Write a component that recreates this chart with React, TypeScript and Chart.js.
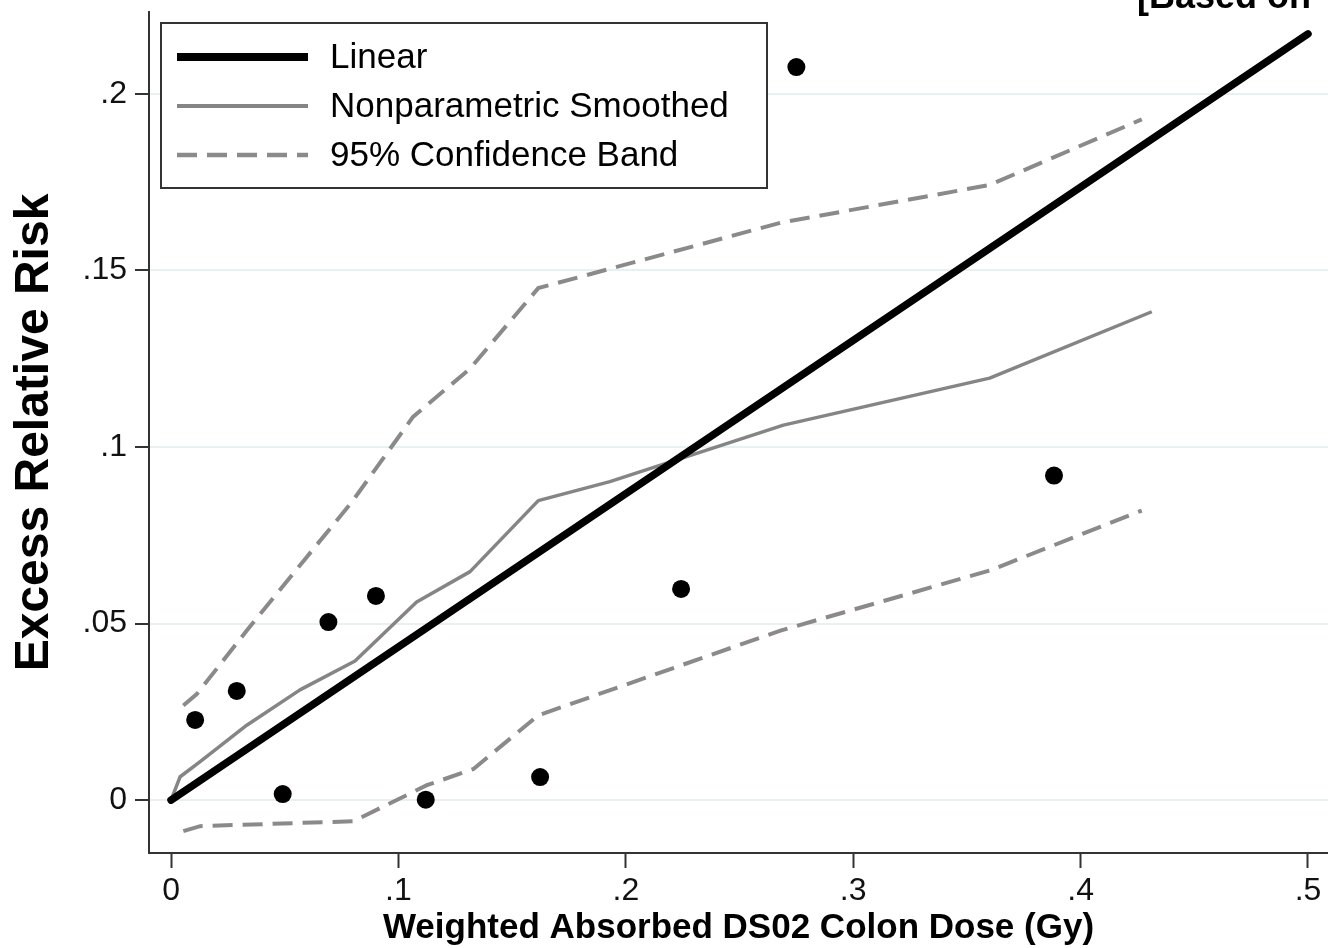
import React, { useEffect, useRef } from 'react';
import { Chart, registerables } from 'chart.js';

Chart.register(...registerables);

// Observed excess relative risk by dose category
const pointX = [0.0106, 0.0289, 0.0491, 0.0692, 0.0901, 0.112, 0.1623, 0.2243, 0.275, 0.3883];
const pointY = [0.0227, 0.0309, 0.0017, 0.0504, 0.0578, 0.0001, 0.0065, 0.0598, 0.2076, 0.0919];

// Linear fit
const linearX = [0, 0.5];
const linearY = [0, 0.217];

// Nonparametric smoothed curve
const smoothX = [0, 0.004, 0.0128, 0.0333, 0.0567, 0.0809, 0.108, 0.1315, 0.1615, 0.193, 0.2693, 0.36, 0.4313];
const smoothY = [0, 0.0066, 0.0109, 0.0212, 0.0312, 0.0394, 0.0561, 0.0647, 0.0848, 0.0902, 0.1062, 0.1195, 0.1383];

// 95% confidence band
const upperX = [0.0054, 0.0113, 0.0333, 0.058, 0.0796, 0.1065, 0.1315, 0.1615, 0.268, 0.36, 0.4269];
const upperY = [0.0268, 0.030, 0.048, 0.0675, 0.0845, 0.1086, 0.1222, 0.145, 0.1635, 0.1742, 0.1928];
const lowerX = [0.0054, 0.0128, 0.0802, 0.1125, 0.133, 0.1615, 0.268, 0.36, 0.4269];
const lowerY = [-0.0088, -0.0074, -0.006, 0.0042, 0.0088, 0.024, 0.048, 0.065, 0.082];

const xTicks = [0, 0.1, 0.2, 0.3, 0.4, 0.5];
const yTicks = [0, 0.05, 0.1, 0.15, 0.2];

const legendLabels = ['Linear', 'Nonparametric Smoothed', '95% Confidence Band'];

const FONT = '"Liberation Sans", Arial, Helvetica, sans-serif';

const fmt = (v: number | string) => {
  const n = Number(v);
  if (n === 0) return '0';
  return String(Math.round(n * 1000) / 1000).replace(/^0/, '').replace(/^-0/, '-');
};

const zip = (xs: number[], ys: number[]) => xs.map((x, i) => ({ x, y: ys[i] }));

const noPad = (s: any) => {
  s.paddingTop = 0;
  s.paddingBottom = 0;
  s.paddingLeft = 0;
  s.paddingRight = 0;
};

const overlayPlugin = {
  id: 'overlay',
  afterDatasetsDraw(chart: any) {
    const ctx = chart.ctx as CanvasRenderingContext2D;
    ctx.save();
    // legend box
    const bx = 161, by = 23, bw = 606, bh = 165;
    ctx.fillStyle = '#ffffff';
    ctx.fillRect(bx, by, bw, bh);
    ctx.strokeStyle = '#333333';
    ctx.lineWidth = 2;
    ctx.setLineDash([]);
    ctx.strokeRect(bx, by, bw, bh);
    const rows = [57, 106, 155];
    const items = chart.data.datasets.filter((d: any) => d.inLegend);
    items.forEach((d: any, i: number) => {
      const y = rows[i];
      ctx.beginPath();
      ctx.strokeStyle = d.borderColor;
      ctx.lineWidth = d.legendWidth || d.borderWidth;
      ctx.setLineDash(d.borderDash || []);
      ctx.lineCap = 'butt';
      ctx.moveTo(177, y);
      ctx.lineTo(308, y);
      ctx.stroke();
      ctx.setLineDash([]);
      ctx.fillStyle = '#000';
      ctx.font = `35px ${FONT}`;
      ctx.textAlign = 'left';
      ctx.textBaseline = 'middle';
      ctx.fillText(d.label, 330, y + 1);
    });
    ctx.restore();
  },
  afterDraw(chart: any) {
    const ctx = chart.ctx as CanvasRenderingContext2D;
    ctx.save();
    ctx.fillStyle = '#000';
    ctx.font = `bold 36px ${FONT}`;
    ctx.textAlign = 'left';
    ctx.textBaseline = 'alphabetic';
    ctx.fillText('[Based on', 1137, 8);
    ctx.restore();
  },
};

export default function App() {
  const ref = useRef<HTMLCanvasElement | null>(null);

  useEffect(() => {
    document.body.style.margin = '0';
    if (!ref.current) return;
    const dashed = { borderColor: '#8a8a8a', borderWidth: 4, borderDash: [20, 10], pointRadius: 0, fill: false, tension: 0 };
    const chart = new Chart(ref.current, {
      type: 'line',
      data: {
        datasets: [
          {
            label: legendLabels[0],
            data: zip(linearX, linearY),
            borderColor: '#000000',
            borderWidth: 7.5,
            legendWidth: 8,
            borderCapStyle: 'round',
            pointRadius: 0,
            order: 0,
            inLegend: true,
          } as any,
          {
            label: legendLabels[1],
            data: zip(smoothX, smoothY),
            borderColor: '#858585',
            borderWidth: 3.5,
            legendWidth: 4,
            borderJoinStyle: 'round',
            pointRadius: 0,
            order: 1,
            inLegend: true,
          } as any,
          { label: legendLabels[2], data: zip(upperX, upperY), ...dashed, legendWidth: 4.5, order: 2, inLegend: true } as any,
          { label: legendLabels[2] + ' (lower)', data: zip(lowerX, lowerY), ...dashed, order: 2 } as any,
          {
            type: 'scatter',
            label: 'Observed',
            data: zip(pointX, pointY),
            backgroundColor: '#000000',
            borderWidth: 0,
            pointRadius: 9,
            showLine: false,
            order: 3,
          } as any,
        ],
      },
      options: {
        responsive: false,
        animation: false,
        events: [],
        layout: { autoPadding: false, padding: { top: 12, right: 0, left: 0, bottom: 0 } },
        plugins: { legend: { display: false }, tooltip: { enabled: false }, title: { display: false } },
        scales: {
          x: {
            type: 'linear',
            min: -0.0097,
            max: 0.5088,
            afterFit: (s: any) => { s.height = 95; noPad(s); },
            afterBuildTicks: (s: any) => { s.ticks = xTicks.map((v) => ({ value: v })); },
            ticks: {
              callback: (v: any) => fmt(v),
              font: { family: FONT, size: 32 },
              color: '#111',
              padding: 4,
              maxRotation: 0,
              autoSkip: false,
            },
            grid: { drawOnChartArea: false, tickLength: 15, tickWidth: 2, tickColor: '#333' },
            border: { color: '#333', width: 2 },
            title: {
              display: true,
              text: 'Weighted Absorbed DS02 Colon Dose (Gy)',
              color: '#000',
              font: { family: FONT, size: 35, weight: 'bold', lineHeight: 1 },
              padding: { top: 0, bottom: 2.5 },
            },
          },
          y: {
            type: 'linear',
            min: -0.015,
            max: 0.2232,
            afterFit: (s: any) => { s.width = 149; noPad(s); },
            afterBuildTicks: (s: any) => { s.ticks = yTicks.map((v) => ({ value: v })); },
            ticks: {
              callback: (v: any) => fmt(v),
              font: { family: FONT, size: 32 },
              color: '#111',
              padding: 8,
              autoSkip: false,
            },
            grid: { color: '#e8f0f2', lineWidth: 2, tickLength: 14, tickWidth: 2, tickColor: '#333' },
            border: { color: '#333', width: 2 },
            title: {
              display: true,
              text: 'Excess Relative Risk',
              color: '#000',
              font: { family: FONT, size: 48, weight: 'bold', lineHeight: 1 },
              padding: { top: 11, bottom: 0 },
            },
          },
        },
      } as any,
      plugins: [overlayPlugin],
    });
    return () => chart.destroy();
  }, []);

  return (
    <div style={{ width: 1328, height: 948, overflow: 'hidden' }}>
      <canvas ref={ref} width={1328} height={948} style={{ display: 'block', width: 1328, height: 948 }} />
    </div>
  );
}
